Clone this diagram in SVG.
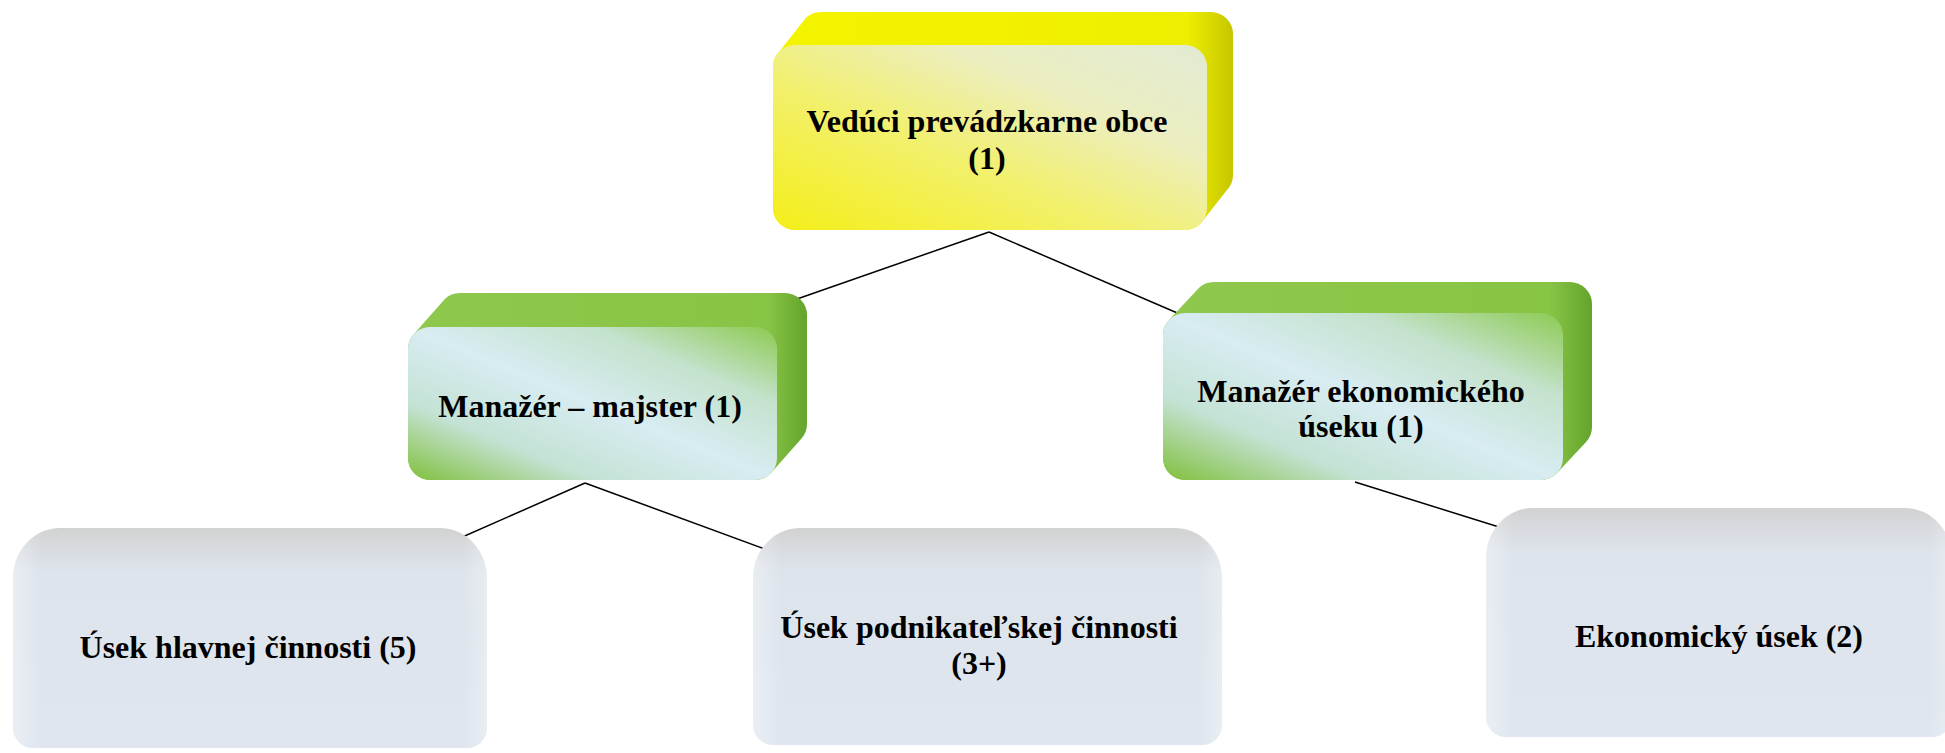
<svg xmlns="http://www.w3.org/2000/svg" width="1945" height="753" viewBox="0 0 1945 753">
<defs>
<linearGradient id="yHull" x1="0" y1="0" x2="1" y2="0">
<stop offset="0" stop-color="#f4f400"/><stop offset="0.9" stop-color="#eeee00"/><stop offset="1" stop-color="#c6c600"/>
</linearGradient>
<linearGradient id="yFace" x1="0" y1="1" x2="1" y2="0">
<stop offset="0" stop-color="#f4ee18"/><stop offset="0.4" stop-color="#f2f06c"/><stop offset="0.7" stop-color="#eceec0"/><stop offset="1" stop-color="#e2ead4"/>
</linearGradient>
<linearGradient id="gHull" x1="0" y1="0" x2="1" y2="0">
<stop offset="0" stop-color="#8ec84c"/><stop offset="0.9" stop-color="#88c446"/><stop offset="1" stop-color="#64a42c"/>
</linearGradient>
<linearGradient id="gFace" x1="0" y1="1" x2="1" y2="0">
<stop offset="0" stop-color="#80c03c"/><stop offset="0.25" stop-color="#c4e2d4"/><stop offset="0.5" stop-color="#d8ecf2"/><stop offset="0.75" stop-color="#c4e2cc"/><stop offset="1" stop-color="#8cca50"/>
</linearGradient>
<linearGradient id="grFace" x1="0" y1="0" x2="0" y2="1">
<stop offset="0" stop-color="#d2d2d2"/><stop offset="0.12" stop-color="#d9dde3"/><stop offset="0.2" stop-color="#dee4ec"/><stop offset="1" stop-color="#dfe6ef"/>
</linearGradient>
<linearGradient id="grEdge" x1="0" y1="0" x2="1" y2="0">
<stop offset="0" stop-color="#ffffff" stop-opacity="0.35"/><stop offset="0.06" stop-color="#ffffff" stop-opacity="0"/><stop offset="0.95" stop-color="#ffffff" stop-opacity="0"/><stop offset="1" stop-color="#ffffff" stop-opacity="0.3"/>
</linearGradient>
</defs>
<style>
text{font-family:'Liberation Serif','DejaVu Serif',serif;font-weight:bold;font-size:32px;fill:#000;text-anchor:middle}
.con{stroke:#000;stroke-width:1.5;fill:none}
</style>

<g id="connectors">
<line class="con" x1="989" y1="232" x2="797" y2="299"/>
<line class="con" x1="989" y1="232" x2="1182" y2="315"/>
<line class="con" x1="585" y1="483" x2="451" y2="542"/>
<line class="con" x1="585" y1="483" x2="773" y2="552"/>
<line class="con" x1="1355" y1="482" x2="1515" y2="532"/>
</g>

<g id="node-veduci">
<path fill="url(#yHull)" d="M773,208 L773,67 A22,22 0 0 1 779.4,51.4 L805.4,18.4 A22,22 0 0 1 821,12 L1211,12 A22,22 0 0 1 1233,34 L1233,175 A22,22 0 0 1 1226.6,190.6 L1200.6,223.6 A22,22 0 0 1 1185,230 L795,230 A22,22 0 0 1 773,208 Z"/>
<rect x="773" y="45" width="434" height="185" rx="22" fill="url(#yFace)"/>
<text x="987" y="132" font-family="Liberation Serif, DejaVu Serif, serif">Vedúci prevádzkarne obce</text>
<text x="987" y="169" font-family="Liberation Serif, DejaVu Serif, serif">(1)</text>
</g>

<g id="node-manazer-majster">
<path fill="url(#gHull)" d="M408,458 L408,349 A22,22 0 0 1 414.4,333.4 L444.4,299.4 A22,22 0 0 1 460,293 L785,293 A22,22 0 0 1 807,315 L807,424 A22,22 0 0 1 800.6,439.6 L770.6,473.6 A22,22 0 0 1 755,480 L430,480 A22,22 0 0 1 408,458 Z"/>
<rect x="408" y="327" width="369" height="153" rx="22" fill="url(#gFace)"/>
<text x="590" y="417" font-family="Liberation Serif, DejaVu Serif, serif">Manažér – majster (1)</text>
</g>

<g id="node-manazer-ekonomickeho">
<path fill="url(#gHull)" d="M1163,458 L1163,335 A22,22 0 0 1 1169.4,319.4 L1198.4,288.4 A22,22 0 0 1 1214,282 L1570,282 A22,22 0 0 1 1592,304 L1592,427 A22,22 0 0 1 1585.6,442.6 L1556.6,473.6 A22,22 0 0 1 1541,480 L1185,480 A22,22 0 0 1 1163,458 Z"/>
<rect x="1163" y="313" width="400" height="167" rx="22" fill="url(#gFace)"/>
<text x="1361" y="402" font-family="Liberation Serif, DejaVu Serif, serif">Manažér ekonomického</text>
<text x="1361" y="437" font-family="Liberation Serif, DejaVu Serif, serif">úseku (1)</text>
</g>

<g id="node-usek-hlavnej">
<path fill="url(#grFace)" d="M60,528 L440,528 A47,50 0 0 1 487,578 L487,728 A20,20 0 0 1 467,748 L33,748 A20,20 0 0 1 13,728 L13,578 A47,50 0 0 1 60,528 Z"/>
<path fill="url(#grEdge)" d="M60,528 L440,528 A47,50 0 0 1 487,578 L487,728 A20,20 0 0 1 467,748 L33,748 A20,20 0 0 1 13,728 L13,578 A47,50 0 0 1 60,528 Z"/>
<text x="248" y="658" font-family="Liberation Serif, DejaVu Serif, serif">Úsek hlavnej činnosti (5)</text>
</g>

<g id="node-usek-podnikatelskej">
<path fill="url(#grFace)" d="M800,528 L1175,528 A47,50 0 0 1 1222,578 L1222,725 A20,20 0 0 1 1202,745 L773,745 A20,20 0 0 1 753,725 L753,578 A47,50 0 0 1 800,528 Z"/>
<path fill="url(#grEdge)" d="M800,528 L1175,528 A47,50 0 0 1 1222,578 L1222,725 A20,20 0 0 1 1202,745 L773,745 A20,20 0 0 1 753,725 L753,578 A47,50 0 0 1 800,528 Z"/>
<text x="979" y="638" font-family="Liberation Serif, DejaVu Serif, serif">Úsek podnikateľskej činnosti</text>
<text x="979" y="674" font-family="Liberation Serif, DejaVu Serif, serif">(3+)</text>
</g>

<g id="node-ekonomicky-usek">
<path fill="url(#grFace)" d="M1532,508 L1905,508 A47,50 0 0 1 1952,558 L1952,717 A20,20 0 0 1 1932,737 L1506,737 A20,20 0 0 1 1486,717 L1486,558 A47,50 0 0 1 1532,508 Z"/>
<path fill="url(#grEdge)" d="M1532,508 L1905,508 A47,50 0 0 1 1952,558 L1952,717 A20,20 0 0 1 1932,737 L1506,737 A20,20 0 0 1 1486,717 L1486,558 A47,50 0 0 1 1532,508 Z"/>
<text x="1719" y="647" font-family="Liberation Serif, DejaVu Serif, serif">Ekonomický úsek (2)</text>
</g>
</svg>
